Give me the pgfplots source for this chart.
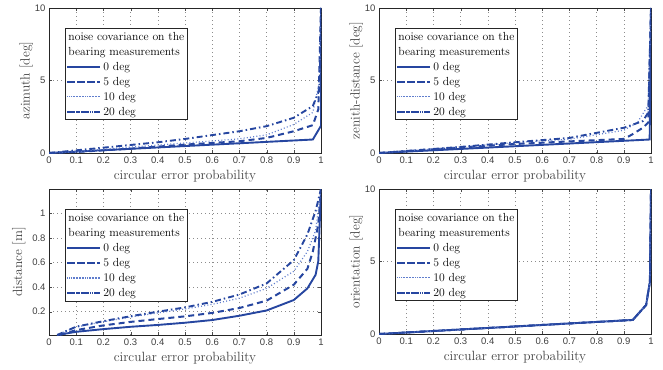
\documentclass[border=0pt]{standalone}
\usepackage{fontspec}
\usepackage{pgfplots}
\pgfplotsset{compat=1.18}
\newfontfamily\tickfont{Liberation Sans}
\definecolor{lb}{RGB}{38,70,160}
\definecolor{lbl}{RGB}{95,125,205}
\pgfplotsset{
  cepaxis/.style={
    scale only axis, width=272pt,
    xmin=0, xmax=1,
    xtick={0,0.1,0.2,0.3,0.4,0.5,0.6,0.7,0.8,0.9,1},
    xticklabels={0,0.1,0.2,0.3,0.4,0.5,0.6,0.7,0.8,0.9,1},
    grid=major, grid style={black!45, line width=0.55pt, dash pattern=on 0.7pt off 3.3pt},
    axis line style={line width=0.9pt, black!85},
    tick style={black!70},
    major tick length=3pt,
    /pgf/number format/assume math mode=true,
    tick label style={font=\tickfont\fontsize{9.5}{10}\selectfont, text=black!75},
    label style={font=\fontsize{13.4}{15}\selectfont, text=black!75},
    xlabel={circular error probability},
    legend style={at={(0.058,0.86)}, anchor=north west, draw=black!85, line width=0.9pt,
      font=\fontsize{11.7}{13}\selectfont, inner sep=1.2pt, row sep=1.4pt},
    legend cell align=left,
    legend image code/.code={\path (0pt,0pt) -- (33pt,0pt);\draw (2pt,0pt) -- (31pt,0pt);},
  },
  degaxis/.style={cepaxis, height=145pt, ymin=0, ymax=10, ytick={0,5,10},
    ylabel style={yshift=-5pt}},
  s0/.style={lb, line width=1.9pt},
  s5/.style={lb, line width=2pt, dash pattern=on 6pt off 4pt},
  s10/.style={lbl, line width=1.2pt, dash pattern=on 1pt off 2.2pt},
  s20/.style={lb, line width=1.9pt, dash pattern=on 6pt off 3pt on 1.5pt off 3pt},
}
\newcommand{\legtitle}{%
  \addlegendimage{empty legend}\addlegendentry{\hspace{-35pt}noise covariance on the}
  \addlegendimage{empty legend}\addlegendentry{\hspace{-35pt}bearing measurements}}
\begin{document}
\begin{tikzpicture}
\useasboundingbox (0,0) rectangle (663pt,-369pt);
% azimuth
\begin{axis}[degaxis, at={(49pt,-153pt)}, anchor=south west, ylabel={azimuth [deg]}]
\legtitle
\addplot[s0] coordinates {(0,0) (0.97,0.93) (1,1.88) (1,10)};
\addlegendentry{0 deg}
\addplot[s5] coordinates {(0,0) (0.1,0.07) (0.3,0.3) (0.5,0.58) (0.7,0.81) (0.8,1.04) (0.9,1.5) (0.97,1.92) (0.99,3.0) (1,10)};
\addlegendentry{5 deg}
\addplot[s10] coordinates {(0,0) (0.1,0.1) (0.3,0.4) (0.5,0.69) (0.7,0.98) (0.8,1.25) (0.9,1.97) (0.97,2.8) (0.995,5) (1,10)};
\addlegendentry{10 deg}
\addplot[s20] coordinates {(0,0) (0.19,0.35) (0.4,0.74) (0.5,0.97) (0.7,1.5) (0.8,1.85) (0.9,2.43) (0.97,3.24) (0.995,4.4) (1,10)};
\addlegendentry{20 deg}
\end{axis}
% zenith-distance
\begin{axis}[degaxis, at={(379pt,-153pt)}, anchor=south west, ylabel={zenith-distance [deg]}]
\legtitle
\addplot[s0] coordinates {(0,0) (0.995,0.93) (1,10)};
\addlegendentry{0 deg}
\addplot[s5] coordinates {(0,0) (0.3,0.38) (0.5,0.62) (0.7,0.8) (0.9,0.97) (0.93,1.27) (0.97,1.74) (0.99,2.1) (1,10)};
\addlegendentry{5 deg}
\addplot[s10] coordinates {(0,0) (0.3,0.42) (0.5,0.72) (0.7,0.95) (0.9,1.57) (0.95,2.1) (0.99,3.3) (1,10)};
\addlegendentry{10 deg}
\addplot[s20] coordinates {(0,0) (0.3,0.42) (0.5,0.74) (0.7,1.04) (0.8,1.39) (0.9,1.74) (0.97,2.2) (0.99,2.8) (1,10)};
\addlegendentry{20 deg}
\end{axis}
% distance
\begin{axis}[cepaxis, at={(49pt,-335pt)}, anchor=south west, height=146pt,
  ymin=0.01, ymax=1.2, ytick={0.2,0.4,0.6,0.8,1}, yticklabels={0.2,0.4,0.6,0.8,1}, ylabel={distance [m]}]
\legtitle
\addplot[s0] coordinates {(0.03,0.01) (0.1,0.036) (0.2,0.058) (0.3,0.077) (0.4,0.092) (0.5,0.11) (0.6,0.132) (0.7,0.167) (0.8,0.21) (0.9,0.295) (0.95,0.39) (0.98,0.5) (0.99,0.61) (1,1.2)};
\addlegendentry{0 deg}
\addplot[s5] coordinates {(0.04,0.01) (0.1,0.05) (0.2,0.088) (0.3,0.117) (0.4,0.14) (0.5,0.162) (0.6,0.19) (0.7,0.23) (0.8,0.29) (0.9,0.42) (0.95,0.55) (0.97,0.69) (0.99,0.91) (1,1.2)};
\addlegendentry{5 deg}
\addplot[s10] coordinates {(0.03,0.01) (0.1,0.075) (0.2,0.118) (0.3,0.157) (0.4,0.19) (0.5,0.222) (0.6,0.26) (0.7,0.31) (0.8,0.39) (0.9,0.53) (0.95,0.69) (0.98,0.86) (1,1.2)};
\addlegendentry{10 deg}
\addplot[s20] coordinates {(0.03,0.01) (0.1,0.078) (0.2,0.123) (0.3,0.163) (0.4,0.2) (0.5,0.235) (0.6,0.28) (0.7,0.34) (0.8,0.43) (0.9,0.62) (0.95,0.83) (0.98,1.02) (1,1.2)};
\addlegendentry{20 deg}
\end{axis}
% orientation
\begin{axis}[degaxis, at={(379pt,-334pt)}, anchor=south west, ylabel={orientation [deg]}]
\legtitle
\addplot[s0] coordinates {(0,0) (0.933,0.97) (0.982,2.0) (0.996,3.6) (1,10)};
\addlegendentry{0 deg}
\addplot[s5] coordinates {(0,0) (0.933,0.97) (0.982,2.0) (0.996,3.6) (1,10)};
\addlegendentry{5 deg}
\addplot[s10] coordinates {(0,0) (0.933,0.97) (0.982,2.0) (0.996,3.6) (1,10)};
\addlegendentry{10 deg}
\addplot[s20] coordinates {(0,0) (0.933,0.97) (0.982,2.0) (0.996,3.6) (1,10)};
\addlegendentry{20 deg}
\end{axis}
\end{tikzpicture}
\end{document}
